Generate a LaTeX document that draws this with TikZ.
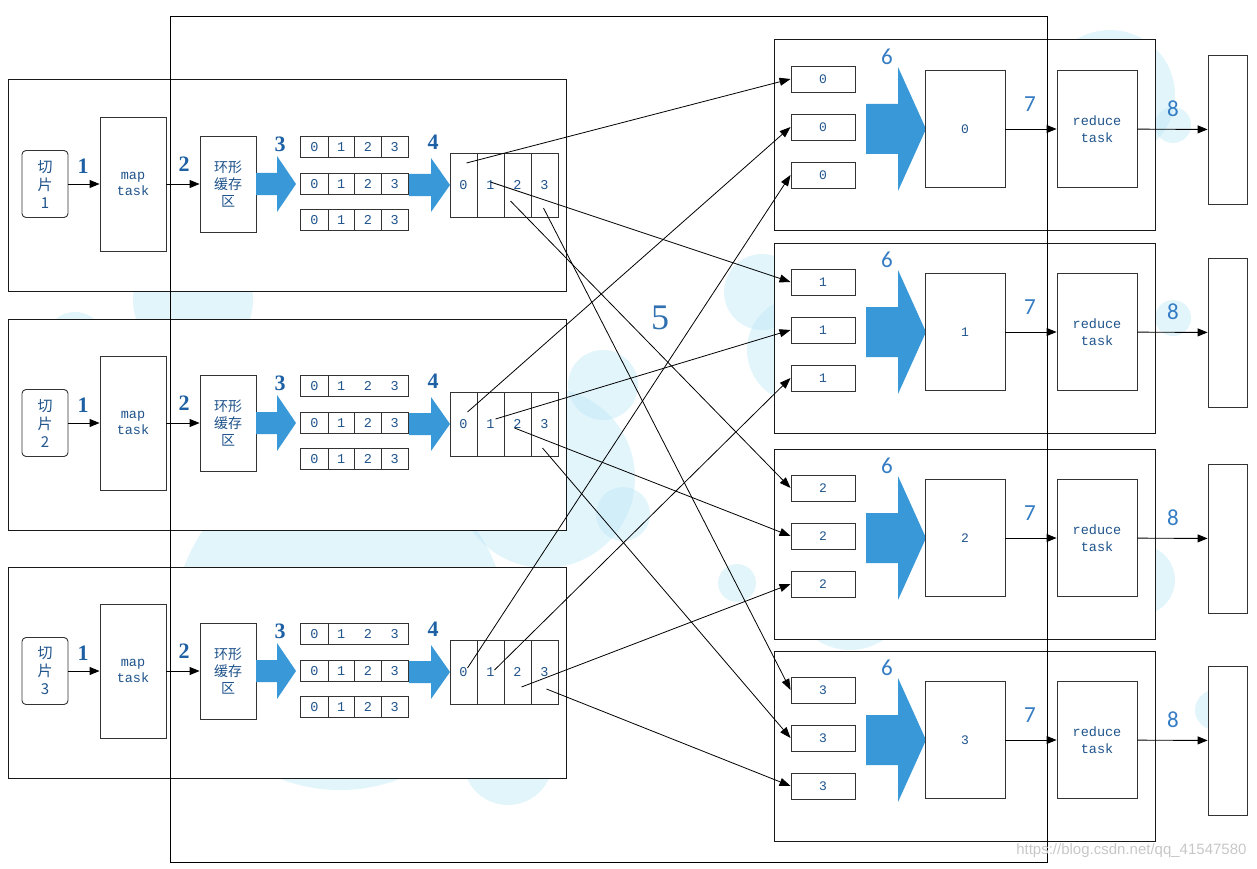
\documentclass[tikz,border=0pt]{standalone}
\usepackage{fontspec}
\setmainfont{Liberation Serif}
\setmonofont{Liberation Mono}
\newfontfamily\cjkfont{Noto Sans CJK SC}
\newfontfamily\calfont{Carlito}
\newfontfamily\urlfont{Liberation Sans}
\usetikzlibrary{arrows.meta}

\definecolor{txtblue}{RGB}{31,84,140}
\definecolor{lblblue}{RGB}{30,96,164}
\definecolor{numblue}{RGB}{52,124,196}
\definecolor{fatblue}{RGB}{56,152,216}
\definecolor{bgblue}{RGB}{190,232,247}

\tikzset{
  blk/.style={draw=black!90, line width=1pt, fill=white, inner sep=0pt},
  tbox/.style={draw=black!80, line width=0.9pt, fill=white, inner sep=0pt, align=center, text=txtblue},
  cell/.style={inner sep=0pt, minimum width=26.75, minimum height=21, text=txtblue,
               font=\ttfamily\fontsize{13.5}{13.5}\selectfont},
  pcell/.style={draw=black!80, line width=0.9pt, inner sep=0pt, minimum width=27, minimum height=64,
               text=txtblue, font=\ttfamily\fontsize{13.5}{13.5}\selectfont},
  rowline/.style={draw=black!80, line width=0.9pt},
  maplbl/.style={text=lblblue, font=\bfseries\fontsize{22}{22}\selectfont},
  redlbl/.style={text=numblue, font=\calfont\fontsize{23}{23}\selectfont},
  tip/.style={line width=0.9pt, -{Triangle[length=10pt,width=8pt]}},
  conn/.style={line width=0.8pt, -{Triangle[length=11pt,width=8pt]}},
  blob/.style={fill=bgblue, fill opacity=0.45},
}

% x0, x at head, tip, centre y, half shaft, half head
\newcommand{\fatarrow}[6]{%
  \fill[fatblue] (#1,{#4-#5}) -- (#2,{#4-#5}) -- (#2,{#4-#6}) -- (#3,#4)
    -- (#2,{#4+#6}) -- (#2,{#4+#5}) -- (#1,{#4+#5}) -- cycle;}

\begin{document}
\begin{tikzpicture}[x=1pt, y=-1pt]
  \useasboundingbox (0,0) rectangle (1257,869);

  % background bubbles
  \foreach \cx/\cy/\rr in {193/300/60, 75/342/30, 340/624/166, 508/760/45, 545/478/90,
                           603/385/35, 623/514/27, 737/583/19, 762/292/38, 800/350/53,
                           850/590/60, 1110/95/65, 1173/125/18, 1173/318/18, 1140/580/35,
                           1215/710/20}
    \fill[blob] (\cx,\cy) circle (\rr);

  % map side frames
  \foreach \b/\y in {1/184,2/423,3/671}
    \node[blk, minimum width=558, minimum height=211] (m\b) at (287,{\y+1.5}) {};

  % reduce side frames
  \foreach \k/\y in {0/129,1/332,2/538,3/740}
    \node[blk, minimum width=381, minimum height=190] (rb\k) at (964.5,{\y+6}) {};

  % shuffle frame
  \node[draw, line width=1pt, inner sep=0pt, minimum width=877, minimum height=845] (shuffle) at (608.5,439.5) {};

  % map tasks
  \foreach \b/\y/\rows in {1/184/{1,2,3},2/423/{2,3},3/671/{2,3}} {
    \node[tbox, rounded corners=4pt, minimum width=46, minimum height=67,
          font=\cjkfont\fontsize{15}{18}\selectfont] (s\b) at (45,\y) {切\\片\\\b};
    \node[tbox, minimum width=66, minimum height=134,
          font=\ttfamily\fontsize{13.5}{16}\selectfont] (mt\b) at (133,\y) {map\\task};
    \node[tbox, minimum width=56, minimum height=96,
          font=\cjkfont\fontsize{14}{17}\selectfont] (h\b) at (228,\y) {环形\\缓存\\区};
    \draw[tip] (s\b) -- (mt\b);
    \draw[tip] (mt\b) -- (h\b);
    \node[maplbl] at (83,{\y-18}) {1};
    \node[maplbl] at (184,{\y-20}) {2};
    \node[maplbl] at (280,{\y-40}) {3};
    \node[maplbl] at (433,{\y-42}) {4};
    \fatarrow{256}{277}{296}{\y}{11}{28}
    \foreach \r/\dy in {1/-37,2/0,3/36} {
      \foreach \c in {0,...,3}
        \node[cell] (q\b\r\c) at ({314.4+26.75*\c},{\y+\dy}) {\c};
      \draw[rowline] (q\b\r0.north west) rectangle (q\b\r3.south east);
      \draw[rowline] (q\b\r0.north east) -- (q\b\r0.south east);
    }
    \foreach \r in \rows
      \draw[rowline] (q\b\r1.north east) -- (q\b\r1.south east)
                     (q\b\r2.north east) -- (q\b\r2.south east);
    \fatarrow{409}{431}{450}{\y+1}{11}{27}
    \foreach \c in {0,...,3}
      \node[pcell] (p\b\c) at ({463.5+27*\c},{\y+1}) {\c};
  }

  % reduce tasks
  \foreach \k/\y in {0/129,1/332,2/538,3/740} {
    \foreach \s/\dy in {1/-50,2/-2,3/46}
      \node[tbox, minimum width=64, minimum height=26,
            font=\ttfamily\fontsize{13}{13}\selectfont] (r\k\s) at (823,{\y+\dy}) {\k};
    \fatarrow{866}{898}{926}{\y}{25}{62}
    \node[tbox, minimum width=80, minimum height=117,
          font=\ttfamily\fontsize{13}{13}\selectfont] (mb\k) at (965,\y) {\k};
    \node[tbox, minimum width=80, minimum height=117,
          font=\ttfamily\fontsize{13.5}{17}\selectfont] (rt\k) at (1097,\y) {reduce\\task};
    \node[tbox, minimum width=39, minimum height=149] (ob\k) at (1227.5,{\y+0.5}) {};
    \draw[tip] (mb\k) -- (rt\k);
    \draw[tip] (rt\k) -- (ob\k);
    \node[redlbl] at (887,{\y-72}) {6};
    \node[redlbl] at (1030,{\y-25}) {7};
    \node[redlbl] at (1173,{\y-20}) {8};
  }

  \node[text=numblue!90!black, font=\fontsize{36}{36}\selectfont] (five) at (660,318) {5};

  % partitions to reducers
  \foreach \b/\c/\dx/\dy in {1/0/3/-22, 1/1/0/-3, 1/2/-7/16, 1/3/-1/23,
                             2/0/4/-12, 2/1/5/-5, 2/2/-3/4, 2/3/-2/24,
                             3/0/4/-4, 3/1/4/-2, 3/2/4/15, 3/3/2/17}
    \draw[conn] ([shift={(\dx,\dy)}]p\b\c.center) -- (r\c\b.west);

  \node[text=black!22, anchor=east, font=\urlfont\fontsize{15}{15}\selectfont] (wm) at (1250,851)
    {https://blog.csdn.net/qq\_41547580};
\end{tikzpicture}
\end{document}
